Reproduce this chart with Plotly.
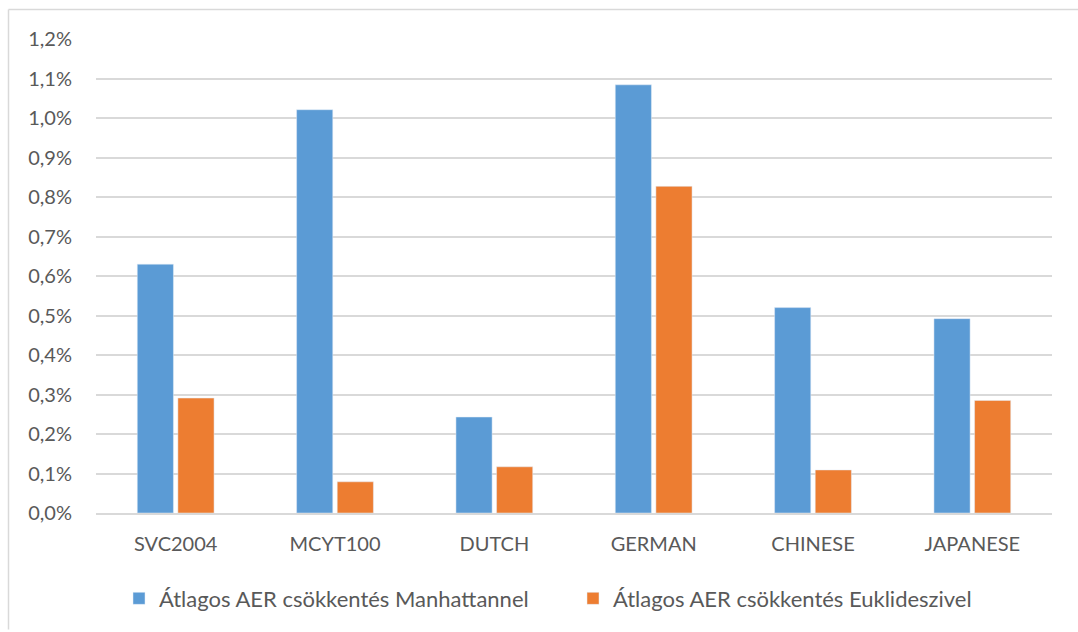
import plotly.graph_objects as go

categories = ["SVC2004", "MCYT100", "DUTCH", "GERMAN", "CHINESE", "JAPANESE"]
manhattan = [0.630, 1.021, 0.243, 1.084, 0.520, 0.492]
euclid = [0.291, 0.079, 0.117, 0.827, 0.109, 0.285]
series_names = ["Átlagos AER csökkentés Manhattannel", "Átlagos AER csökkentés Euklideszivel"]
y_ticks = [0.0, 0.1, 0.2, 0.3, 0.4, 0.5, 0.6, 0.7, 0.8, 0.9, 1.0, 1.1, 1.2]
y_tick_text = [f"{v:.1f}%".replace(".", ",") for v in y_ticks]

W, H = 1078, 632
L, R, T, B = 96, 26, 39, 117
FONT = dict(family="Lato, 'Open Sans', sans-serif", size=20, color="#595959")
LEGEND_FONT = dict(FONT, size=22)

fig = go.Figure()
fig.add_trace(go.Bar(x=categories, y=manhattan, name=series_names[0], marker_color="#5B9BD5"))
fig.add_trace(go.Bar(x=categories, y=euclid, name=series_names[1], marker_color="#ED7D31"))

pw, ph = W - L - R, H - T - B
def px_x(x):
    return (x - L) / pw
def px_y(y):
    return (H - B - y) / ph

# chart frame (top and left edges)
frame = dict(type="line", xref="paper", yref="paper", line=dict(color="#D9D9D9", width=1.5))
fig.add_shape(**frame, x0=px_x(8.5), x1=px_x(1078), y0=px_y(9.5), y1=px_y(9.5))
fig.add_shape(**frame, x0=px_x(8.5), x1=px_x(8.5), y0=px_y(9.5), y1=px_y(632))

fig.update_layout(
    width=W, height=H,
    margin=dict(l=L, r=R, t=T, b=B),
    paper_bgcolor="white", plot_bgcolor="white",
    font=FONT,
    barmode="group", bargap=0.49, bargroupgap=0.11,
    showlegend=True,
    legend=dict(orientation="h", x=px_x(119), y=px_y(622), xanchor="left", yanchor="bottom",
                entrywidth=409, font=LEGEND_FONT, bgcolor="rgba(0,0,0,0)"),
)
fig.update_yaxes(range=[0, 1.2], tickvals=y_ticks, ticktext=y_tick_text,
                 showgrid=True, gridcolor="#D9D9D9", gridwidth=1.5, zeroline=False,
                 showline=False, ticks="", ticklabelstandoff=23)
fig.update_xaxes(showline=True, linecolor="#D9D9D9", linewidth=1.5, ticks="",
                 ticklabelstandoff=12)

fig.write_html("out.html")
